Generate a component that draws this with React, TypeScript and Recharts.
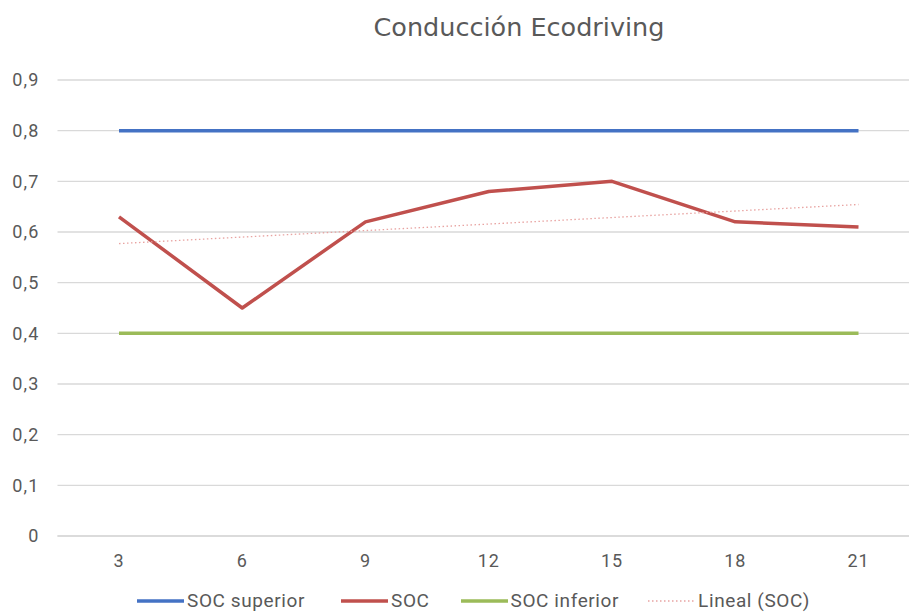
import React from 'react';
import { LineChart, Line, XAxis, YAxis, CartesianGrid, Legend } from 'recharts';

const categories = [3, 6, 9, 12, 15, 18, 21];
const socValues = [0.63, 0.45, 0.62, 0.68, 0.7, 0.62, 0.61];
const socSuperior = [0.8, 0.8, 0.8, 0.8, 0.8, 0.8, 0.8];
const socInferior = [0.4, 0.4, 0.4, 0.4, 0.4, 0.4, 0.4];
const yTicks = [0, 0.1, 0.2, 0.3, 0.4, 0.5, 0.6, 0.7, 0.8, 0.9];
const title = 'Conducción Ecodriving';

// Linear trendline (least squares) of SOC, as Excel's "Lineal (SOC)"
const n = socValues.length;
const xs = socValues.map((_, i) => i + 1);
const mx = xs.reduce((a, b) => a + b, 0) / n;
const my = socValues.reduce((a, b) => a + b, 0) / n;
const slope =
  xs.reduce((s, x, i) => s + (x - mx) * (socValues[i] - my), 0) /
  xs.reduce((s, x) => s + (x - mx) * (x - mx), 0);
const intercept = my - slope * mx;

const data = categories.map((c, i) => ({
  cat: String(c),
  sup: socSuperior[i],
  soc: socValues[i],
  inf: socInferior[i],
  trend: intercept + slope * (i + 1),
}));

const FONT = 'Roboto, sans-serif';
const TXT = '#595959';

const legendItems = [
  { label: 'SOC superior', color: '#4472C4', dotted: false, gapAfter: 36 },
  { label: 'SOC', color: '#C0504D', dotted: false, gapAfter: 31 },
  { label: 'SOC inferior', color: '#9BBB59', dotted: false, gapAfter: 29 },
  { label: 'Lineal (SOC)', color: '#E8A3A1', dotted: true, gapAfter: 0 },
];

const renderLegend = () => (
  <div style={{ display: 'flex', alignItems: 'center', paddingLeft: 137, height: 37, paddingTop: 12, boxSizing: 'border-box' }}>
    {legendItems.map((it) => (
      <div key={it.label} style={{ display: 'flex', alignItems: 'center', marginRight: it.gapAfter }}>
        <svg width={47} height={10} style={{ marginRight: 3 }}>
          <line
            x1={0}
            x2={47}
            y1={5}
            y2={5}
            stroke={it.color}
            strokeWidth={it.dotted ? 1.3 : 3.5}
            strokeDasharray={it.dotted ? '1.5 2.5' : undefined}
          />
        </svg>
        <span style={{ fontFamily: FONT, fontSize: 19, letterSpacing: 0.6, color: TXT, lineHeight: '20px' }}>{it.label}</span>
      </div>
    ))}
  </div>
);

export default function App() {
  return (
    <div style={{ position: 'absolute', left: 0, top: 0, width: 909, height: 613, overflow: 'hidden', background: '#fff' }}>
      <div
        style={{
          position: 'absolute',
          left: 0,
          top: 12,
          width: 1038,
          textAlign: 'center',
          fontFamily: '"DejaVu Sans", sans-serif',
          fontSize: 25.5,
          lineHeight: '30px',
          color: TXT,
        }}
      >
        {title}
      </div>
      <LineChart width={930} height={613} data={data} margin={{ top: 80, right: 10, bottom: 0, left: 0 }}>
        <CartesianGrid vertical={false} stroke="#d9d9d9" strokeWidth={1.3} />
        <XAxis
          dataKey="cat"
          height={40}
          padding={{ left: 61.5, right: 61.5 }}
          axisLine={{ stroke: '#d9d9d9', strokeWidth: 1.3 }}
          tickLine={false}
          tickMargin={12}
          tick={{ fontFamily: FONT, fontSize: 18, letterSpacing: 0.8, fill: TXT }}
        />
        <YAxis
          width={57.5}
          domain={[0, 0.9]}
          ticks={yTicks}
          interval={0}
          axisLine={false}
          tickLine={false}
          tickMargin={12}
          tickFormatter={(v: number) => (v === 0 ? '0' : v.toFixed(1).replace('.', ','))}
          tick={{ fontFamily: FONT, fontSize: 18, letterSpacing: 1.2, fill: TXT }}
        />
        <Legend verticalAlign="bottom" height={37} content={renderLegend} wrapperStyle={{ left: 0, width: 909 }} />
        <Line dataKey="sup" name="SOC superior" stroke="#4472C4" strokeWidth={3.5} dot={false} isAnimationActive={false} />
        <Line dataKey="soc" name="SOC" stroke="#C0504D" strokeWidth={3.5} dot={false} isAnimationActive={false} strokeLinejoin="round" />
        <Line dataKey="inf" name="SOC inferior" stroke="#9BBB59" strokeWidth={3.5} dot={false} isAnimationActive={false} />
        <Line dataKey="trend" name="Lineal (SOC)" stroke="#E8A3A1" strokeWidth={1.3} strokeDasharray="1.5 2.5" dot={false} isAnimationActive={false} />
      </LineChart>
    </div>
  );
}
